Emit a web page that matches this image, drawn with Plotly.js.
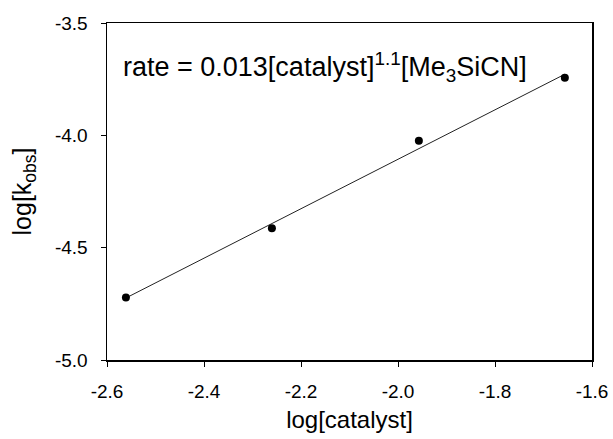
<!DOCTYPE html>
<html>
<head>
<meta charset="utf-8">
<script src="https://cdn.plot.ly/plotly-3.0.1.min.js"></script>
<style>html,body{margin:0;padding:0;background:#fff;}#chart{width:613px;height:439px;}</style>
</head>
<body>
<div id="chart"></div>
<script>
// Data
const logCatalyst = [-2.561, -2.260, -1.957, -1.656];
const logKobs = [-4.722, -4.414, -4.024, -3.744];
// Fitted trend line endpoints (as drawn in the reference)
const fitX = [-2.561, -1.656];
const fitY = [-4.724, -3.728];
const xTicks = [-2.6, -2.4, -2.2, -2.0, -1.8, -1.6];
const yTicks = [-5.0, -4.5, -4.0, -3.5];
const xTickText = ['-2.6', '-2.4', '-2.2', '-2.0', '-1.8', '-1.6'];
const yTickText = ['-5.0', '-4.5', '-4.0', '-3.5'];
const equationText = 'rate = 0.013[catalyst]<sup>1.1</sup>[Me<sub>3</sub>SiCN]';

const font = 'Liberation Sans, Arial, sans-serif';
const traces = [
  {x: fitX, y: fitY, mode: 'lines', line: {color: '#222', width: 1}, hoverinfo: 'skip', showlegend: false},
  {x: logCatalyst, y: logKobs, mode: 'markers', marker: {color: '#000', size: 8}, showlegend: false}
];
const layout = {
  width: 613, height: 439,
  margin: {l: 107, r: 21, t: 23, b: 79},
  paper_bgcolor: '#fff', plot_bgcolor: '#fff',
  font: {family: font, color: '#000'},
  showlegend: false,
  xaxis: {
    range: [-2.6, -1.6], tickvals: xTicks, ticktext: xTickText,
    ticks: 'outside', ticklen: 5, tickwidth: 1, tickcolor: '#000',
    showline: true, linecolor: '#000', linewidth: 1.5, mirror: true,
    showgrid: false, zeroline: false,
    tickfont: {size: 19, family: font}, ticklabelstandoff: 9,
    title: {text: 'log[catalyst]', font: {size: 24, family: font}, standoff: 10}
  },
  yaxis: {
    range: [-5.0, -3.5], tickvals: yTicks, ticktext: yTickText,
    ticks: 'outside', ticklen: 5, tickwidth: 1, tickcolor: '#000',
    showline: true, linecolor: '#000', linewidth: 1.5, mirror: true,
    showgrid: false, zeroline: false,
    tickfont: {size: 19, family: font}, ticklabelstandoff: 9,
    title: {text: 'log[k<sub>obs</sub>]', font: {size: 25, family: font}, standoff: 16}
  },
  annotations: [{
    xref: 'paper', yref: 'paper', x: 0.028, y: 0.87,
    xanchor: 'left', yanchor: 'middle', showarrow: false,
    text: equationText, font: {size: 27, family: font, color: '#000'}
  }]
};
Plotly.newPlot('chart', traces, layout, {displayModeBar: false, staticPlot: true});
</script>
</body>
</html>
